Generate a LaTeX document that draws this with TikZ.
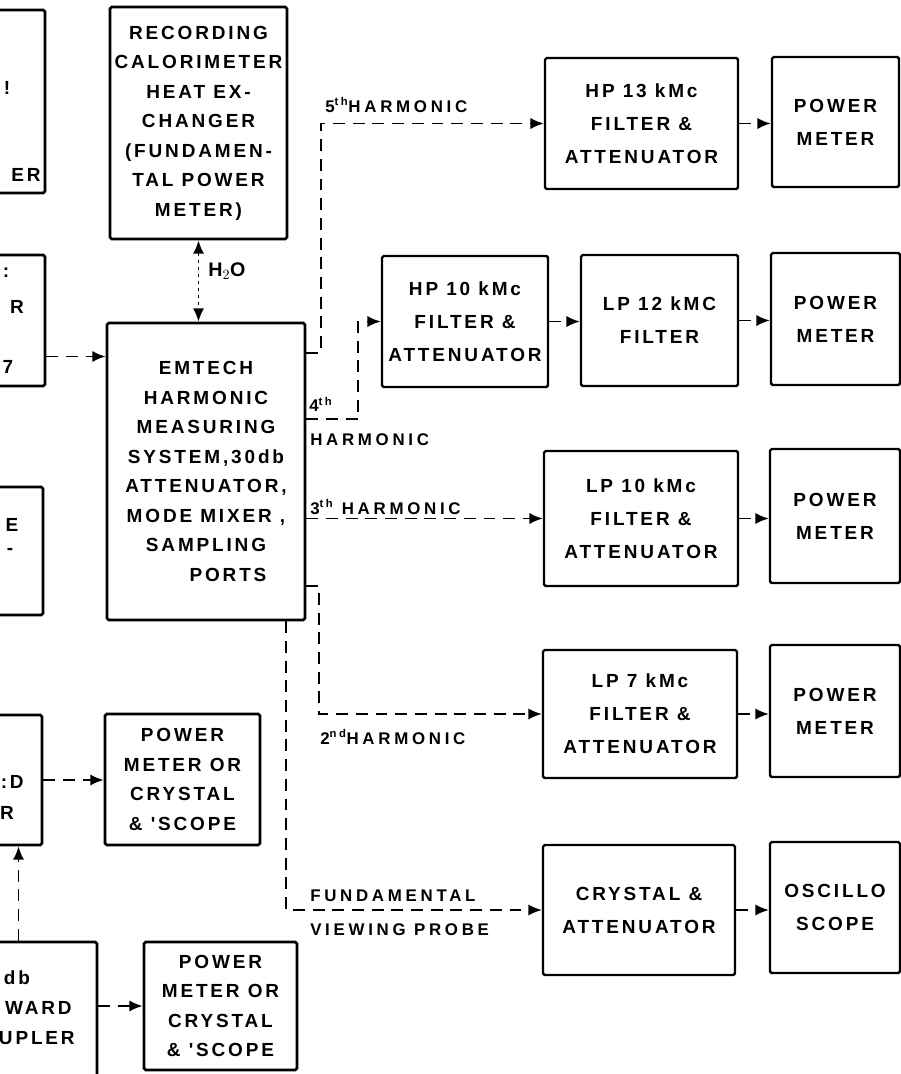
\documentclass[tikz,border=0pt]{standalone}
\usepackage{fontspec}
\usetikzlibrary{arrows.meta,calc}
\newfontfamily\letterfont[LetterSpace=15]{Liberation Sans}
\newfontfamily\labelfont[LetterSpace=22]{Liberation Sans}
\begin{document}
\begin{tikzpicture}[x={(0.025cm,0cm)}, y={(0cm,-0.025cm)}, >={Latex[length=9.5pt,width=8pt]},
          blk/.style={draw, line width=1.9pt, rounded corners=1.2pt, inner sep=0pt, align=center,
                      font=\letterfont\bfseries\fontsize{13.5}{21}\selectfont},
          rblk/.style={blk, line width=1.7pt, font=\letterfont\bfseries\fontsize{13.5}{23.5}\selectfont},
          sz/.style 2 args={minimum width=#1*0.025cm, minimum height=#2*0.025cm},
          frag/.style={inner sep=0pt, font=\letterfont\bfseries\fontsize{13.5}{21}\selectfont},
          lbl/.style={inner sep=0pt, anchor=west, font=\labelfont\bfseries\fontsize{12}{14}\selectfont},
          conn/.style={->, line width=1.4pt, dash pattern=on 8.5pt off 5.5pt},
          water/.style={<->, line width=1.4pt, dash pattern=on 2.5pt off 2.5pt}]
        \useasboundingbox (0,0) rectangle (901,1074);
        \clip (0,0) rectangle (901,1074);
        % left column, cut by the page edge
        \node[blk, sz={105}{183}] (src1) at (-7.5,101.5) {};
        \node[blk, sz={105}{131}] (src2) at (-7.5,320.5) {};
        \node[blk, sz={103}{128}] (src3) at (-8.5,551) {};
        \node[blk, sz={102}{130}] (src4) at (-9,780) {};
        \node[blk, sz={157}{158}] (coupler) at (18.5,1021) {};
        \node[frag] (f1a) at (7,88) {!};
        \node[frag, anchor=east] (f1b) at (41,175) {ER};
        \node[frag] (f2a) at (6,273) {:};
        \node[frag] (f2b) at (17,307) {R};
        \node[frag] (f2c) at (8,367) {7};
        \node[frag] (f3a) at (12,525) {E};
        \node[frag] (f3b) at (10,551) {-};
        \node[frag, anchor=east] (f4a) at (24,782) {:D};
        \node[frag] (f4b) at (7,813) {R};
        \node[frag] (f5a) at (17,978) {db};
        \node[frag, anchor=east] (f5b) at (72,1008) {WARD};
        \node[frag, anchor=east] (f5c) at (75,1038) {UPLER};
        % middle column
        \node[blk, sz={177}{232}] (calor) at (198.5,123)
          {RECORDING\\CALORIMETER\\HEAT EX-\\CHANGER\\(FUNDAMEN-\\TAL POWER\\METER)};
        \node[blk, sz={198}{297}] (emtech) at (206,471.5)
          {EMTECH\\HARMONIC\\MEASURING\\SYSTEM,30db\\ATTENUATOR,\\MODE MIXER ,\\SAMPLING\\\hspace*{1.1cm}PORTS};
        \node[blk, sz={155}{131}] (meter1) at (182.5,779.5) {POWER\\METER OR\\CRYSTAL\\\& 'SCOPE};
        \node[blk, sz={153}{128}] (meter2) at (220.5,1006) {POWER\\METER OR\\CRYSTAL\\\& 'SCOPE};
        % filters and meters
        \node[rblk, sz={193}{131}] (hp13) at (641.5,123.5) {HP 13 kMc\\FILTER \&\\ATTENUATOR};
        \node[rblk, sz={127}{130}] (pwrA) at (835.5,122) {POWER\\METER};
        \node[rblk, sz={166}{131}] (hp10) at (465,321.5) {HP 10 kMc\\FILTER \&\\ATTENUATOR};
        \node[rblk, sz={157}{131}] (lp12) at (659.5,320.5) {LP 12 kMC\\FILTER};
        \node[rblk, sz={129}{132}] (pwrB) at (835.5,319) {POWER\\METER};
        \node[rblk, sz={194}{135}] (lp10) at (641,518.5) {LP 10 kMc\\FILTER \&\\ATTENUATOR};
        \node[rblk, sz={130}{134}] (pwrC) at (835,516) {POWER\\METER};
        \node[rblk, sz={194}{128}] (lp7) at (640,714) {LP 7 kMc\\FILTER \&\\ATTENUATOR};
        \node[rblk, sz={130}{132}] (pwrD) at (835,711) {POWER\\METER};
        \node[rblk, sz={192}{130}] (crys) at (639,910) {CRYSTAL \&\\ATTENUATOR};
        \node[rblk, sz={130}{131}] (osc) at (835,907.5) {OSCILLO\\SCOPE};
        % connections
        \coordinate (in2) at ($(src2.east)+(0,36)$);
        \draw[conn] (in2) -- (in2 -| emtech.west);
        \draw[water] (calor.south) -- (calor.south |- emtech.north);
        \node[lbl, font=\labelfont\bfseries\fontsize{14}{16}\selectfont] (h2o) at (208,271) {H$_2$O};
        \draw[conn] (src4.east) -- (src4.east -| meter1.west);
        \draw[conn] (meter2.west -| coupler.east) -- (meter2.west);
        \draw[conn] (coupler.north) -- (coupler.north |- src4.south);
        \draw[conn] ($(emtech.north east)+(0,31)$) -- ++(15,0) |- (hp13.west);
        \draw[conn] ($(emtech.north east)+(0,97)$) -- ++(52,0) |- (hp10.west);
        \draw[conn] (emtech.east |- lp10.west) -- (lp10.west);
        \draw[conn] ($(emtech.south east)+(0,-35)$) -- ++(13,0) |- (lp7.west);
        \draw[conn] ($(emtech.south east)+(-20,0)$) |- (crys.west);
        \draw[conn] (hp13.east) -- (hp13.east -| pwrA.west);
        \draw[conn] (hp10.east) -- (hp10.east -| lp12.west);
        \draw[conn] (lp12.east) -- (lp12.east -| pwrB.west);
        \draw[conn] (lp10.east) -- (lp10.east -| pwrC.west);
        \draw[conn] (lp7.east) -- (lp7.east -| pwrD.west);
        \draw[conn] (crys.east) -- (crys.east -| osc.west);
        \node[lbl] (l5) at (325,105) {5\textsuperscript{th}HARMONIC};
        \node[lbl] (l4a) at (309,404) {4\textsuperscript{th}};
        \node[lbl] (l4b) at (310,440) {HARMONIC};
        \node[lbl] (l3) at (310,507) {3\textsuperscript{th} HARMONIC};
        \node[lbl] (l2) at (320,737) {2\textsuperscript{nd}HARMONIC};
        \node[lbl] (l1a) at (310,896) {FUNDAMENTAL};
        \node[lbl] (l1b) at (310,930) {VIEWING PROBE};
      \end{tikzpicture}
\end{document}
